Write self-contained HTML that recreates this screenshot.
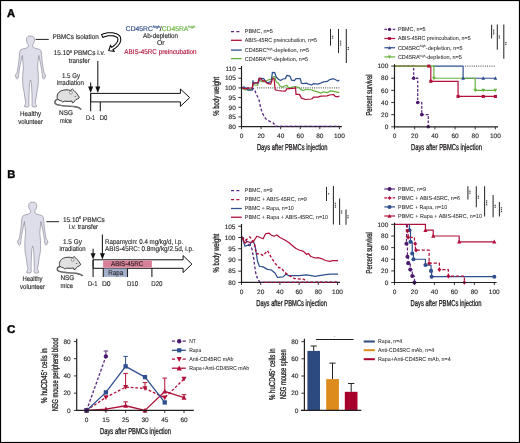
<!DOCTYPE html>
<html><head><meta charset="utf-8"><title>Figure</title>
<style>html,body{margin:0;padding:0;background:#fff;}body{width:520px;height:443px;overflow:hidden;}svg{display:block;will-change:transform;text-rendering:geometricPrecision;}</style>
</head><body>
<svg width="520" height="443" viewBox="0 0 520 443" font-family='"Liberation Sans", sans-serif' fill="#231f20">
<rect x="0" y="0" width="520" height="443" fill="#fff"/>
<text x="7.00" y="16.90" font-size="11.2" stroke="#000" stroke-width="0.4" fill="#000" font-weight="bold" >A</text>
<text x="7.30" y="178.00" font-size="11.2" stroke="#000" stroke-width="0.4" fill="#000" font-weight="bold" >B</text>
<text x="6.90" y="333.30" font-size="11.2" stroke="#000" stroke-width="0.4" fill="#000" font-weight="bold" textLength="8.40" lengthAdjust="spacingAndGlyphs" >C</text>
<path d="M30.50,36.00 L32.90,36.30 L34.20,37.60 L34.50,39.80 L34.30,41.80 L33.50,43.60 L32.70,44.60 L32.60,46.60 L35.00,48.20 L38.50,49.00 L40.30,49.80 L41.10,51.30 L41.50,54.00 L41.90,59.00 L42.50,64.00 L43.30,69.00 L43.90,72.50 L45.30,74.60 L45.90,76.20 L45.10,76.30 L44.80,78.40 L43.80,79.10 L42.80,78.20 L42.30,74.50 L41.70,70.00 L40.70,64.50 L39.50,59.00 L38.70,55.60 L38.10,61.00 L37.60,67.00 L38.20,73.00 L38.40,79.00 L38.10,86.00 L36.90,92.00 L36.10,98.00 L35.20,102.50 L35.90,104.50 L36.70,106.00 L36.10,106.90 L32.70,106.90 L31.90,105.50 L32.10,102.50 L32.00,96.00 L31.70,88.00 L31.30,82.50 L30.50,80.00 L29.70,82.50 L29.30,88.00 L29.00,96.00 L28.90,102.50 L29.10,105.50 L28.30,106.90 L24.90,106.90 L24.30,106.00 L25.10,104.50 L25.80,102.50 L24.90,98.00 L24.10,92.00 L22.90,86.00 L22.60,79.00 L22.80,73.00 L23.40,67.00 L22.90,61.00 L22.30,55.60 L21.50,59.00 L20.30,64.50 L19.30,70.00 L18.70,74.50 L18.20,78.20 L17.20,79.10 L16.20,78.40 L15.90,76.30 L15.10,76.20 L15.70,74.60 L17.10,72.50 L17.70,69.00 L18.50,64.00 L19.10,59.00 L19.50,54.00 L19.90,51.30 L20.70,49.80 L22.50,49.00 L26.00,48.20 L28.40,46.60 L28.30,44.60 L27.50,43.60 L26.70,41.80 L26.50,39.80 L26.80,37.60 L28.10,36.30 Z" fill="#dedeea" stroke="#7d7e8e" stroke-width="0.6" stroke-linejoin="round"/>
<polyline points="38.70,55.60 39.10,60.00" fill="none" stroke="#9a9bab" stroke-width="0.4"/>
<polyline points="22.30,55.60 21.90,60.00" fill="none" stroke="#9a9bab" stroke-width="0.4"/>
<line x1="35.60" y1="39.40" x2="48.80" y2="39.40" stroke="#231f20" stroke-width="1.0" />
<text x="52.50" y="38.50" font-size="6.9" stroke="#231f20" stroke-width="0.13" textLength="46.30" lengthAdjust="spacingAndGlyphs" >PBMCs isolation</text>
<path d="M102.83,37.41 L103.68,37.03 L104.51,36.71 L105.36,36.43 L106.24,36.19 L107.13,36.00 L108.02,35.85 L108.91,35.75 L109.80,35.68 L110.67,35.67 L111.53,35.70 L112.36,35.77 L113.15,35.88 L113.91,36.04 L114.62,36.23 L115.29,36.47 L115.89,36.74 L116.43,37.04 L116.91,37.36 L117.32,37.72 L117.59,38.00 L117.65,38.19 L117.77,38.56 L117.84,38.94 L117.88,39.34 L117.87,39.75 L117.82,40.19 L117.72,40.64 L117.58,41.10 L117.38,41.59 L117.14,42.08 L116.84,42.59 L116.48,43.11 L116.07,43.63 L115.61,44.15 L115.09,44.68 L114.51,45.20 L113.87,45.72 L113.18,46.23 L112.43,46.74 L111.60,47.24 L110.48,45.53 L108.75,50.65 L114.12,51.27 L113.00,49.56 L113.88,49.03 L114.74,48.47 L115.54,47.89 L116.28,47.29 L116.97,46.68 L117.61,46.06 L118.19,45.42 L118.71,44.77 L119.18,44.11 L119.59,43.44 L119.94,42.76 L120.23,42.07 L120.45,41.38 L120.62,40.68 L120.71,39.98 L120.73,39.27 L120.69,38.58 L120.57,37.89 L120.37,37.22 L120.01,36.40 L119.37,35.65 L118.71,35.07 L118.00,34.56 L117.22,34.11 L116.39,33.73 L115.53,33.41 L114.62,33.15 L113.68,32.95 L112.71,32.80 L111.72,32.70 L110.71,32.66 L109.69,32.67 L108.65,32.73 L107.61,32.84 L106.57,33.00 L105.53,33.22 L104.50,33.48 L103.49,33.80 L102.50,34.18 L101.57,34.59 Z" fill="#fff" stroke="#000" stroke-width="1.05" stroke-linejoin="miter"/>
<text x="53.80" y="55.00" font-size="6.9" stroke="#231f20" stroke-width="0.13" textLength="51.20" lengthAdjust="spacingAndGlyphs" >15.10<tspan font-size="3.8" dy="-2.4">6</tspan><tspan dy="2.4"> PBMCs i.v.</tspan></text>
<text x="68.80" y="62.50" font-size="6.9" stroke="#231f20" stroke-width="0.13" textLength="21.00" lengthAdjust="spacingAndGlyphs" >transfer</text>
<text x="61.90" y="77.80" font-size="6.9" stroke="#231f20" stroke-width="0.13" textLength="18.10" lengthAdjust="spacingAndGlyphs" >1.5 Gy</text>
<text x="56.90" y="85.30" font-size="6.9" stroke="#231f20" stroke-width="0.13" textLength="27.10" lengthAdjust="spacingAndGlyphs" >irradiation</text>
<g transform="translate(0.00 0.00) scale(1.0)">
<path d="M58.2,99.2 C54.6,100.2 53.6,102.6 56.4,104.3 C60,106.2 69,105.8 75.5,106.8 C77.8,107.2 79.8,107.9 80.8,108.9" fill="none" stroke="#222" stroke-width="1.4" stroke-linecap="round"/>
<path d="M58.2,99.2 C54.6,100.2 53.6,102.6 56.4,104.3 C60,106.2 69,105.8 75.5,106.8 C77.8,107.2 79.8,107.9 80.8,108.9" fill="none" stroke="#f2f2f2" stroke-width="0.45" stroke-linecap="round"/>
<path d="M57.4,98.6 C56.4,95.2 58.2,92.2 61.2,90.8 C64.2,89.5 68.2,89.6 70.6,90.4 L72.5,89.1 L74.2,90.7 C76.2,92.6 78.2,95.2 79.3,97.6 C78.6,98.6 77.1,99.2 75.9,99.6 C75.1,100.5 74.2,101.3 73.6,102.5 L72.3,102.8 L71.9,101.1 C69.9,101.4 66.9,101.6 64.5,101.2 L62.6,102.0 L61.5,101.0 C59.5,100.5 58.0,99.8 57.4,98.6 Z" fill="#e0e0e0" stroke="#222" stroke-width="0.9" stroke-linejoin="round"/>
<circle cx="70.9" cy="92.6" r="1.5" fill="#f4f4f4" stroke="#444" stroke-width="0.5"/>
<circle cx="75.2" cy="96.3" r="0.55" fill="#222"/>
</g>
<text x="59.00" y="115.30" font-size="6.9" stroke="#231f20" stroke-width="0.13" textLength="14.00" lengthAdjust="spacingAndGlyphs" >NSG</text>
<text x="60.00" y="122.50" font-size="6.9" stroke="#231f20" stroke-width="0.13" textLength="12.00" lengthAdjust="spacingAndGlyphs" >mice</text>
<text x="20.00" y="116.00" font-size="6.9" stroke="#231f20" stroke-width="0.13" textLength="21.20" lengthAdjust="spacingAndGlyphs" >Healthy</text>
<text x="18.20" y="123.80" font-size="6.9" stroke="#231f20" stroke-width="0.13" textLength="24.80" lengthAdjust="spacingAndGlyphs" >volunteer</text>
<text x="125.8" y="30.8" font-size="6.9" stroke-width="0.18" textLength="69.6" lengthAdjust="spacingAndGlyphs"><tspan fill="#2f4f8e" stroke="#2f4f8e">CD45RC</tspan><tspan fill="#2f4f8e" stroke="#2f4f8e" font-size="3.8" dy="-2.8">high</tspan><tspan dy="2.8" stroke="#231f20">/</tspan><tspan fill="#69b23f" stroke="#69b23f">CD45RA</tspan><tspan fill="#69b23f" stroke="#69b23f" font-size="3.8" dy="-2.8">high</tspan></text>
<text x="143.00" y="38.20" font-size="6.9" stroke="#231f20" stroke-width="0.13" textLength="35.00" lengthAdjust="spacingAndGlyphs" >Ab-depletion</text>
<text x="157.00" y="45.40" font-size="6.9" stroke="#231f20" stroke-width="0.13" textLength="7.60" lengthAdjust="spacingAndGlyphs" >Or</text>
<text x="124.30" y="53.80" font-size="6.9" stroke="#b0103a" stroke-width="0.13" fill="#b0103a" textLength="72.30" lengthAdjust="spacingAndGlyphs" >ABIS-45RC preincubation</text>
<line x1="90.65" y1="82.60" x2="90.65" y2="88.00" stroke="#231f20" stroke-width="1.1" />
<polygon points="88.1,86.6 93.2,86.6 90.65,93.0" fill="#111"/>
<line x1="97.80" y1="61.00" x2="97.80" y2="88.00" stroke="#231f20" stroke-width="1.1" />
<polygon points="95.3,86.6 100.3,86.6 97.8,93.0" fill="#111"/>
<path d="M90.65,93.4 L180.4,93.4 L180.4,89.0 L189.7,97.6 L180.4,106.4 L180.4,101.9 L90.65,101.9 Z" fill="#fff" stroke="#111" stroke-width="1.0" stroke-linejoin="miter"/>
<line x1="90.65" y1="93.40" x2="90.65" y2="111.30" stroke="#231f20" stroke-width="1.1" />
<line x1="100.30" y1="101.90" x2="100.30" y2="111.30" stroke="#231f20" stroke-width="1.1" />
<text x="86.10" y="119.70" font-size="6.9" stroke="#231f20" stroke-width="0.13" textLength="9.10" lengthAdjust="spacingAndGlyphs" >D-1</text>
<text x="99.80" y="119.70" font-size="6.9" stroke="#231f20" stroke-width="0.13" textLength="7.60" lengthAdjust="spacingAndGlyphs" >D0</text>
<polyline points="231.00,31.70 240.50,31.70" fill="none" stroke="#5a2a82" stroke-width="1.3" stroke-dasharray="3,2.4" stroke-linejoin="round" />
<line x1="231.00" y1="40.30" x2="241.80" y2="40.30" stroke="#b0103a" stroke-width="1.3" />
<line x1="231.00" y1="50.10" x2="241.80" y2="50.10" stroke="#2f4f8e" stroke-width="1.3" />
<line x1="231.00" y1="58.60" x2="241.80" y2="58.60" stroke="#69b23f" stroke-width="1.3" />
<text x="244.80" y="33.30" font-size="5.7" stroke="#231f20" stroke-width="0.04" textLength="28.00" lengthAdjust="spacingAndGlyphs" >PBMC, n=5</text>
<text x="244.80" y="42.30" font-size="5.7" stroke="#231f20" stroke-width="0.04" textLength="72.10" lengthAdjust="spacingAndGlyphs" >ABIS-45RC preincubation, n=5</text>
<text x="244.80" y="51.90" font-size="5.7" stroke="#231f20" stroke-width="0.04" textLength="64.20" lengthAdjust="spacingAndGlyphs" >CD45RC<tspan font-size="3.2" dy="-2.2">high</tspan><tspan dy="2.2">-depletion, n=5</tspan></text>
<text x="244.80" y="60.90" font-size="5.7" stroke="#231f20" stroke-width="0.04" textLength="63.30" lengthAdjust="spacingAndGlyphs" >CD45RA<tspan font-size="3.2" dy="-2.2">high</tspan><tspan dy="2.2">-depletion, n=5</tspan></text>
<line x1="330.50" y1="28.90" x2="330.50" y2="45.60" stroke="#2a2a2a" stroke-width="1.05" />
<rect x="331.90" y="35.65" width="1.3" height="1.2" fill="#444"/>
<rect x="331.90" y="37.55" width="1.3" height="1.2" fill="#444"/>
<line x1="338.50" y1="29.00" x2="338.50" y2="53.10" stroke="#2a2a2a" stroke-width="1.05" />
<rect x="339.90" y="40.60" width="1.3" height="1.2" fill="#444"/>
<rect x="339.90" y="42.50" width="1.3" height="1.2" fill="#444"/>
<rect x="339.90" y="44.40" width="1.3" height="1.2" fill="#444"/>
<line x1="346.30" y1="29.00" x2="346.30" y2="63.10" stroke="#2a2a2a" stroke-width="1.05" />
<rect x="347.70" y="46.95" width="1.3" height="1.2" fill="#444"/>
<rect x="347.70" y="48.85" width="1.3" height="1.2" fill="#444"/>
<polyline points="257.00,87.90 339.40,87.90" fill="none" stroke="#111" stroke-width="0.9" stroke-dasharray="0.9,1.3" stroke-linejoin="round" />
<polyline points="241.90,87.80 244.00,88.50 247.00,88.00 250.00,88.30 253.00,88.50 254.20,88.90 255.80,92.80 257.50,96.50 259.00,99.90 260.50,107.00 262.00,112.00 263.70,115.70 265.50,118.50 267.60,120.40 270.50,121.60 273.20,122.80 275.50,126.30 339.40,126.30" fill="none" stroke="#5a2a82" stroke-width="1.35" stroke-dasharray="2.8,2.0" stroke-linejoin="round" />
<polyline points="241.60,88.20 245.50,90.00 250.00,89.50 252.30,89.60 253.00,84.00 255.00,85.00 257.50,85.30 259.00,79.00 260.50,81.20 263.70,81.80 266.00,81.00 268.50,79.80 271.60,79.00 273.20,76.60 274.80,76.60 276.20,82.20 278.20,82.80 279.70,85.70 282.10,87.30 284.50,86.00 286.90,85.30 288.40,87.70 291.00,87.30 294.80,86.50 298.70,87.30 301.10,89.70 303.50,90.50 305.80,89.30 309.00,89.70 312.20,90.00 313.50,90.90 317.00,91.60 320.80,93.20 323.50,91.80 327.10,92.70 330.70,90.90 334.00,91.40 338.00,92.30 339.30,92.30" fill="none" stroke="#69b23f" stroke-width="1.25" stroke-linejoin="round" />
<polyline points="241.60,87.70 244.30,86.90 246.00,88.30 247.90,90.00 252.30,90.00 253.00,80.60 253.60,83.20 258.20,83.20 260.00,78.20 263.70,78.60 265.00,80.60 267.30,83.00 271.20,81.40 272.40,72.30 274.80,72.70 276.20,77.00 278.20,79.00 280.50,80.60 282.90,79.00 285.30,78.60 286.90,75.40 290.00,76.20 291.60,80.20 294.40,80.60 296.00,78.60 300.30,78.60 301.40,83.20 303.50,83.70 306.30,83.20 308.00,83.90 311.70,85.00 313.50,83.70 318.00,84.10 320.50,83.20 323.50,81.90 327.10,81.40 329.80,79.60 333.40,78.70 336.10,80.00 338.00,81.00 339.30,80.00" fill="none" stroke="#2f4f8e" stroke-width="1.25" stroke-linejoin="round" />
<polyline points="241.60,87.70 244.70,88.90 248.00,88.20 252.30,87.90 253.00,83.00 258.20,82.60 259.00,78.20 261.00,79.00 263.00,81.00 264.50,80.60 266.00,82.20 268.00,83.70 270.80,84.10 272.40,79.00 274.00,78.20 275.20,89.70 277.40,90.50 281.30,90.90 285.30,91.20 286.90,88.90 294.80,88.10 295.50,87.30 296.00,94.40 299.50,94.40 301.40,98.10 305.40,99.50 311.70,99.00 313.50,97.20 318.00,97.20 320.80,96.10 327.10,95.90 329.80,95.00 333.40,94.50 335.20,96.30 338.00,96.80 339.30,95.90" fill="none" stroke="#b0103a" stroke-width="1.25" stroke-linejoin="round" />
<line x1="241.50" y1="66.00" x2="241.50" y2="127.30" stroke="#231f20" stroke-width="1.2" />
<line x1="238.40" y1="126.64" x2="241.50" y2="126.64" stroke="#231f20" stroke-width="0.9" />
<text x="235.80" y="128.89" font-size="6.5" stroke="#231f20" stroke-width="0.13" text-anchor="end" >80</text>
<line x1="238.40" y1="116.96" x2="241.50" y2="116.96" stroke="#231f20" stroke-width="0.9" />
<text x="235.80" y="119.21" font-size="6.5" stroke="#231f20" stroke-width="0.13" text-anchor="end" >85</text>
<line x1="238.40" y1="107.27" x2="241.50" y2="107.27" stroke="#231f20" stroke-width="0.9" />
<text x="235.80" y="109.52" font-size="6.5" stroke="#231f20" stroke-width="0.13" text-anchor="end" >90</text>
<line x1="238.40" y1="97.59" x2="241.50" y2="97.59" stroke="#231f20" stroke-width="0.9" />
<text x="235.80" y="99.84" font-size="6.5" stroke="#231f20" stroke-width="0.13" text-anchor="end" >95</text>
<line x1="238.40" y1="87.90" x2="241.50" y2="87.90" stroke="#231f20" stroke-width="0.9" />
<text x="235.80" y="90.15" font-size="6.5" stroke="#231f20" stroke-width="0.13" text-anchor="end" >100</text>
<line x1="238.40" y1="78.22" x2="241.50" y2="78.22" stroke="#231f20" stroke-width="0.9" />
<text x="235.80" y="80.47" font-size="6.5" stroke="#231f20" stroke-width="0.13" text-anchor="end" >105</text>
<line x1="238.40" y1="68.53" x2="241.50" y2="68.53" stroke="#231f20" stroke-width="0.9" />
<text x="235.80" y="70.78" font-size="6.5" stroke="#231f20" stroke-width="0.13" text-anchor="end" >110</text>
<line x1="240.90" y1="126.60" x2="341.90" y2="126.60" stroke="#231f20" stroke-width="1.2" />
<line x1="241.50" y1="126.60" x2="241.50" y2="129.20" stroke="#231f20" stroke-width="0.9" />
<text x="241.50" y="138.30" font-size="6.5" stroke="#231f20" stroke-width="0.13" text-anchor="middle" >0</text>
<line x1="261.08" y1="126.60" x2="261.08" y2="129.20" stroke="#231f20" stroke-width="0.9" />
<text x="261.08" y="138.30" font-size="6.5" stroke="#231f20" stroke-width="0.13" text-anchor="middle" >20</text>
<line x1="280.66" y1="126.60" x2="280.66" y2="129.20" stroke="#231f20" stroke-width="0.9" />
<text x="280.66" y="138.30" font-size="6.5" stroke="#231f20" stroke-width="0.13" text-anchor="middle" >40</text>
<line x1="300.24" y1="126.60" x2="300.24" y2="129.20" stroke="#231f20" stroke-width="0.9" />
<text x="300.24" y="138.30" font-size="6.5" stroke="#231f20" stroke-width="0.13" text-anchor="middle" >60</text>
<line x1="319.82" y1="126.60" x2="319.82" y2="129.20" stroke="#231f20" stroke-width="0.9" />
<text x="319.82" y="138.30" font-size="6.5" stroke="#231f20" stroke-width="0.13" text-anchor="middle" >80</text>
<line x1="339.40" y1="126.60" x2="339.40" y2="129.20" stroke="#231f20" stroke-width="0.9" />
<text x="339.40" y="138.30" font-size="6.5" stroke="#231f20" stroke-width="0.13" text-anchor="middle" >100</text>
<polyline points="274.79,126.30 339.40,126.30" fill="none" stroke="#5a2a82" stroke-width="1.0" stroke-dasharray="2.6,2.0" stroke-linejoin="round" />
<text x="256.90" y="150.20" font-size="8.6" stroke="#231f20" stroke-width="0.32" textLength="70.60" lengthAdjust="spacingAndGlyphs" >Days after PBMCs injection</text>
<text x="218.90" y="115.80" font-size="8.6" stroke="#231f20" stroke-width="0.32" textLength="38.90" lengthAdjust="spacingAndGlyphs" transform="rotate(-90 218.90 115.80)" >% body weight</text>
<polyline points="384.40,29.40 395.20,29.40" fill="none" stroke="#5a2a82" stroke-width="1.2" stroke-dasharray="2.6,1.6" stroke-linejoin="round" />
<circle cx="389.50" cy="29.40" r="1.60" fill="#4b1a6e"/>
<line x1="384.40" y1="38.50" x2="395.20" y2="38.50" stroke="#b0103a" stroke-width="1.2" />
<rect x="388.09" y="37.09" width="2.82" height="2.82" fill="#b0103a"/>
<line x1="384.40" y1="47.75" x2="395.20" y2="47.75" stroke="#2f4f8e" stroke-width="1.2" />
<polygon points="389.50,45.97 391.20,49.20 387.80,49.20" fill="#2f4f8e"/>
<line x1="384.40" y1="56.90" x2="395.20" y2="56.90" stroke="#69b23f" stroke-width="1.2" />
<polygon points="389.50,58.68 391.20,55.45 387.80,55.45" fill="#69b23f"/>
<text x="397.90" y="31.00" font-size="5.7" stroke="#231f20" stroke-width="0.04" textLength="27.70" lengthAdjust="spacingAndGlyphs" >PBMC, n=5</text>
<text x="397.90" y="40.40" font-size="5.7" stroke="#231f20" stroke-width="0.04" textLength="72.70" lengthAdjust="spacingAndGlyphs" >ABIS-45RC preincubation, n=5</text>
<text x="397.90" y="49.65" font-size="5.7" stroke="#231f20" stroke-width="0.04" textLength="64.60" lengthAdjust="spacingAndGlyphs" >CD45RC<tspan font-size="3.2" dy="-2.2">high</tspan><tspan dy="2.2">-depletion, n=5</tspan></text>
<text x="397.90" y="59.00" font-size="5.7" stroke="#231f20" stroke-width="0.04" textLength="64.00" lengthAdjust="spacingAndGlyphs" >CD45RA<tspan font-size="3.2" dy="-2.2">high</tspan><tspan dy="2.2">-depletion, n=5</tspan></text>
<line x1="491.60" y1="24.70" x2="491.60" y2="38.50" stroke="#2a2a2a" stroke-width="1.05" />
<rect x="493.00" y="29.50" width="1.3" height="1.2" fill="#444"/>
<rect x="493.00" y="31.40" width="1.3" height="1.2" fill="#444"/>
<rect x="493.00" y="33.30" width="1.3" height="1.2" fill="#444"/>
<line x1="497.30" y1="24.40" x2="497.30" y2="49.80" stroke="#2a2a2a" stroke-width="1.05" />
<rect x="498.70" y="35.45" width="1.3" height="1.2" fill="#444"/>
<rect x="498.70" y="37.35" width="1.3" height="1.2" fill="#444"/>
<line x1="503.80" y1="24.40" x2="503.80" y2="58.80" stroke="#2a2a2a" stroke-width="1.05" />
<rect x="505.20" y="41.95" width="1.3" height="1.2" fill="#444"/>
<rect x="505.20" y="43.85" width="1.3" height="1.2" fill="#444"/>
<polyline points="465.13,66.10 495.40,66.10" fill="none" stroke="#111" stroke-width="0.9" stroke-dasharray="0.9,1.3" stroke-linejoin="round" />
<polyline points="394.50,66.10 413.67,66.10 413.67,78.24 417.71,78.24 417.71,102.52 421.74,102.52 421.74,114.66 428.30,114.66 428.30,126.80" fill="none" stroke="#5a2a82" stroke-width="1.3" stroke-dasharray="2.6,1.6" stroke-linejoin="round" />
<polyline points="394.50,66.10 430.82,66.10 430.82,81.28 458.07,81.28 458.07,96.45 495.40,96.45" fill="none" stroke="#b0103a" stroke-width="1.2" stroke-linejoin="round" />
<polyline points="432.84,66.10 463.11,66.10 463.11,78.24 495.40,78.24" fill="none" stroke="#2f4f8e" stroke-width="1.2" stroke-linejoin="round" />
<polyline points="394.50,66.10 433.85,66.10 433.85,78.24 475.22,78.24 475.22,90.38 495.40,90.38" fill="none" stroke="#69b23f" stroke-width="1.2" stroke-linejoin="round" />
<circle cx="413.67" cy="78.24" r="1.80" fill="#4b1a6e"/>
<circle cx="417.71" cy="102.52" r="1.80" fill="#4b1a6e"/>
<circle cx="421.74" cy="114.66" r="1.80" fill="#4b1a6e"/>
<circle cx="428.30" cy="126.80" r="1.80" fill="#4b1a6e"/>
<rect x="427.27" y="64.56" width="3.08" height="3.08" fill="#b0103a"/>
<rect x="429.28" y="79.73" width="3.08" height="3.08" fill="#b0103a"/>
<rect x="456.53" y="94.91" width="3.08" height="3.08" fill="#b0103a"/>
<rect x="481.75" y="94.91" width="3.08" height="3.08" fill="#b0103a"/>
<rect x="493.86" y="94.91" width="3.08" height="3.08" fill="#b0103a"/>
<polygon points="463.11,76.30 464.96,79.81 461.26,79.81" fill="#2f4f8e"/>
<polygon points="483.29,76.30 485.14,79.81 481.44,79.81" fill="#2f4f8e"/>
<polygon points="495.40,76.30 497.25,79.81 493.55,79.81" fill="#2f4f8e"/>
<polygon points="433.85,80.18 435.70,76.67 432.00,76.67" fill="#69b23f"/>
<polygon points="475.22,92.32 477.07,88.81 473.37,88.81" fill="#69b23f"/>
<polygon points="483.29,92.32 485.14,88.81 481.44,88.81" fill="#69b23f"/>
<polygon points="495.40,92.32 497.25,88.81 493.55,88.81" fill="#69b23f"/>
<line x1="394.50" y1="64.20" x2="394.50" y2="127.40" stroke="#231f20" stroke-width="1.2" />
<line x1="391.20" y1="126.80" x2="394.50" y2="126.80" stroke="#231f20" stroke-width="0.9" />
<text x="388.30" y="129.05" font-size="6.5" stroke="#231f20" stroke-width="0.13" text-anchor="end" >0</text>
<line x1="391.20" y1="114.66" x2="394.50" y2="114.66" stroke="#231f20" stroke-width="0.9" />
<text x="388.30" y="116.91" font-size="6.5" stroke="#231f20" stroke-width="0.13" text-anchor="end" >20</text>
<line x1="391.20" y1="102.52" x2="394.50" y2="102.52" stroke="#231f20" stroke-width="0.9" />
<text x="388.30" y="104.77" font-size="6.5" stroke="#231f20" stroke-width="0.13" text-anchor="end" >40</text>
<line x1="391.20" y1="90.38" x2="394.50" y2="90.38" stroke="#231f20" stroke-width="0.9" />
<text x="388.30" y="92.63" font-size="6.5" stroke="#231f20" stroke-width="0.13" text-anchor="end" >60</text>
<line x1="391.20" y1="78.24" x2="394.50" y2="78.24" stroke="#231f20" stroke-width="0.9" />
<text x="388.30" y="80.49" font-size="6.5" stroke="#231f20" stroke-width="0.13" text-anchor="end" >80</text>
<line x1="391.20" y1="66.10" x2="394.50" y2="66.10" stroke="#231f20" stroke-width="0.9" />
<text x="388.30" y="68.35" font-size="6.5" stroke="#231f20" stroke-width="0.13" text-anchor="end" >100</text>
<line x1="393.90" y1="126.80" x2="498.00" y2="126.80" stroke="#231f20" stroke-width="1.2" />
<line x1="394.50" y1="126.80" x2="394.50" y2="129.40" stroke="#231f20" stroke-width="0.9" />
<text x="394.50" y="138.30" font-size="6.5" stroke="#231f20" stroke-width="0.13" text-anchor="middle" >0</text>
<line x1="414.68" y1="126.80" x2="414.68" y2="129.40" stroke="#231f20" stroke-width="0.9" />
<text x="414.68" y="138.30" font-size="6.5" stroke="#231f20" stroke-width="0.13" text-anchor="middle" >20</text>
<line x1="434.86" y1="126.80" x2="434.86" y2="129.40" stroke="#231f20" stroke-width="0.9" />
<text x="434.86" y="138.30" font-size="6.5" stroke="#231f20" stroke-width="0.13" text-anchor="middle" >40</text>
<line x1="455.04" y1="126.80" x2="455.04" y2="129.40" stroke="#231f20" stroke-width="0.9" />
<text x="455.04" y="138.30" font-size="6.5" stroke="#231f20" stroke-width="0.13" text-anchor="middle" >60</text>
<line x1="475.22" y1="126.80" x2="475.22" y2="129.40" stroke="#231f20" stroke-width="0.9" />
<text x="475.22" y="138.30" font-size="6.5" stroke="#231f20" stroke-width="0.13" text-anchor="middle" >80</text>
<line x1="495.40" y1="126.80" x2="495.40" y2="129.40" stroke="#231f20" stroke-width="0.9" />
<text x="495.40" y="138.30" font-size="6.5" stroke="#231f20" stroke-width="0.13" text-anchor="middle" >100</text>
<text x="411.00" y="150.20" font-size="8.6" stroke="#231f20" stroke-width="0.32" textLength="70.90" lengthAdjust="spacingAndGlyphs" >Days after PBMCs injection</text>
<text x="371.60" y="115.60" font-size="8.6" stroke="#231f20" stroke-width="0.32" textLength="41.10" lengthAdjust="spacingAndGlyphs" transform="rotate(-90 371.60 115.60)" >Percent survival</text>
<path d="M32.70,202.10 L35.10,202.40 L36.40,203.70 L36.70,205.90 L36.50,207.90 L35.70,209.70 L34.90,210.70 L34.80,212.70 L37.20,214.30 L40.70,215.10 L42.50,215.90 L43.30,217.40 L43.70,220.10 L44.10,225.10 L44.70,230.10 L45.50,235.10 L46.10,238.60 L47.50,240.70 L48.10,242.30 L47.30,242.40 L47.00,244.50 L46.00,245.20 L45.00,244.30 L44.50,240.60 L43.90,236.10 L42.90,230.60 L41.70,225.10 L40.90,221.70 L40.30,227.10 L39.80,233.10 L40.40,239.10 L40.60,245.10 L40.30,252.10 L39.10,258.10 L38.30,264.10 L37.40,268.60 L38.10,270.60 L38.90,272.10 L38.30,273.00 L34.90,273.00 L34.10,271.60 L34.30,268.60 L34.20,262.10 L33.90,254.10 L33.50,248.60 L32.70,246.10 L31.90,248.60 L31.50,254.10 L31.20,262.10 L31.10,268.60 L31.30,271.60 L30.50,273.00 L27.10,273.00 L26.50,272.10 L27.30,270.60 L28.00,268.60 L27.10,264.10 L26.30,258.10 L25.10,252.10 L24.80,245.10 L25.00,239.10 L25.60,233.10 L25.10,227.10 L24.50,221.70 L23.70,225.10 L22.50,230.60 L21.50,236.10 L20.90,240.60 L20.40,244.30 L19.40,245.20 L18.40,244.50 L18.10,242.40 L17.30,242.30 L17.90,240.70 L19.30,238.60 L19.90,235.10 L20.70,230.10 L21.30,225.10 L21.70,220.10 L22.10,217.40 L22.90,215.90 L24.70,215.10 L28.20,214.30 L30.60,212.70 L30.50,210.70 L29.70,209.70 L28.90,207.90 L28.70,205.90 L29.00,203.70 L30.30,202.40 Z" fill="#dedeea" stroke="#7d7e8e" stroke-width="0.6" stroke-linejoin="round"/>
<polyline points="40.90,221.70 41.30,226.10" fill="none" stroke="#9a9bab" stroke-width="0.4"/>
<polyline points="24.50,221.70 24.10,226.10" fill="none" stroke="#9a9bab" stroke-width="0.4"/>
<line x1="46.30" y1="221.70" x2="59.00" y2="221.70" stroke="#231f20" stroke-width="1.0" />
<text x="62.90" y="221.60" font-size="6.9" stroke="#231f20" stroke-width="0.13" textLength="41.90" lengthAdjust="spacingAndGlyphs" >15.10<tspan font-size="3.8" dy="-2.4">6</tspan><tspan dy="2.4"> PBMCs</tspan></text>
<text x="68.80" y="229.40" font-size="6.9" stroke="#231f20" stroke-width="0.13" textLength="29.30" lengthAdjust="spacingAndGlyphs" >i.v. transfer</text>
<text x="63.00" y="244.00" font-size="6.9" stroke="#231f20" stroke-width="0.13" textLength="18.90" lengthAdjust="spacingAndGlyphs" >1.5 Gy</text>
<text x="59.40" y="251.00" font-size="6.9" stroke="#231f20" stroke-width="0.13" textLength="26.20" lengthAdjust="spacingAndGlyphs" >irradiation</text>
<g transform="translate(4.60 171.00) scale(0.96)">
<path d="M58.2,99.2 C54.6,100.2 53.6,102.6 56.4,104.3 C60,106.2 69,105.8 75.5,106.8 C77.8,107.2 79.8,107.9 80.8,108.9" fill="none" stroke="#222" stroke-width="1.4" stroke-linecap="round"/>
<path d="M58.2,99.2 C54.6,100.2 53.6,102.6 56.4,104.3 C60,106.2 69,105.8 75.5,106.8 C77.8,107.2 79.8,107.9 80.8,108.9" fill="none" stroke="#f2f2f2" stroke-width="0.45" stroke-linecap="round"/>
<path d="M57.4,98.6 C56.4,95.2 58.2,92.2 61.2,90.8 C64.2,89.5 68.2,89.6 70.6,90.4 L72.5,89.1 L74.2,90.7 C76.2,92.6 78.2,95.2 79.3,97.6 C78.6,98.6 77.1,99.2 75.9,99.6 C75.1,100.5 74.2,101.3 73.6,102.5 L72.3,102.8 L71.9,101.1 C69.9,101.4 66.9,101.6 64.5,101.2 L62.6,102.0 L61.5,101.0 C59.5,100.5 58.0,99.8 57.4,98.6 Z" fill="#e0e0e0" stroke="#222" stroke-width="0.9" stroke-linejoin="round"/>
<circle cx="70.9" cy="92.6" r="1.5" fill="#f4f4f4" stroke="#444" stroke-width="0.5"/>
<circle cx="75.2" cy="96.3" r="0.55" fill="#222"/>
</g>
<text x="60.40" y="280.40" font-size="6.9" stroke="#231f20" stroke-width="0.13" textLength="14.00" lengthAdjust="spacingAndGlyphs" >NSG</text>
<text x="60.60" y="288.00" font-size="6.9" stroke="#231f20" stroke-width="0.13" textLength="12.40" lengthAdjust="spacingAndGlyphs" >mice</text>
<text x="22.40" y="281.10" font-size="6.9" stroke="#231f20" stroke-width="0.13" textLength="20.20" lengthAdjust="spacingAndGlyphs" >Healthy</text>
<text x="20.00" y="288.50" font-size="6.9" stroke="#231f20" stroke-width="0.13" textLength="25.00" lengthAdjust="spacingAndGlyphs" >volunteer</text>
<text x="105.00" y="243.80" font-size="6.9" stroke="#231f20" stroke-width="0.13" textLength="78.10" lengthAdjust="spacingAndGlyphs" >Rapamycin: 0.4 mg/kg/d, i.p.</text>
<text x="105.00" y="251.30" font-size="6.9" stroke="#231f20" stroke-width="0.13" textLength="88.80" lengthAdjust="spacingAndGlyphs" >ABIS-45RC: 0.8mg/kg/2.5d, i.p.</text>
<line x1="93.10" y1="248.80" x2="93.10" y2="254.50" stroke="#231f20" stroke-width="1.1" />
<polygon points="90.6,253.2 95.6,253.2 93.1,259.6" fill="#111"/>
<line x1="102.40" y1="234.40" x2="102.40" y2="254.50" stroke="#231f20" stroke-width="1.1" />
<polygon points="99.9,253.2 104.9,253.2 102.4,259.6" fill="#111"/>
<path d="M93.1,259.8 L183.1,259.8 L183.1,255.6 L191.9,264.1 L183.1,272.5 L183.1,268.3 L93.1,268.3 Z" fill="#fff" stroke="#111" stroke-width="1.0"/>
<rect x="103.1" y="260.4" width="48.8" height="7.3" fill="#d8809a"/>
<text x="111.00" y="266.40" font-size="6.9" stroke="#231f20" stroke-width="0.13" textLength="32.20" lengthAdjust="spacingAndGlyphs" >ABIS-45RC</text>
<rect x="103.5" y="268.6" width="24.0" height="8.3" fill="#a3b0cc"/>
<text x="108.30" y="275.20" font-size="6.9" stroke="#231f20" stroke-width="0.13" textLength="14.80" lengthAdjust="spacingAndGlyphs" >Rapa</text>
<line x1="93.10" y1="259.80" x2="93.10" y2="277.00" stroke="#231f20" stroke-width="1.1" />
<line x1="103.30" y1="268.30" x2="103.30" y2="277.00" stroke="#231f20" stroke-width="1.1" />
<line x1="127.50" y1="268.30" x2="127.50" y2="277.00" stroke="#231f20" stroke-width="1.1" />
<line x1="151.90" y1="268.30" x2="151.90" y2="277.00" stroke="#231f20" stroke-width="1.1" />
<text x="88.10" y="285.60" font-size="6.9" stroke="#231f20" stroke-width="0.13" textLength="9.40" lengthAdjust="spacingAndGlyphs" >D-1</text>
<text x="101.90" y="285.60" font-size="6.9" stroke="#231f20" stroke-width="0.13" textLength="8.70" lengthAdjust="spacingAndGlyphs" >D0</text>
<text x="126.90" y="285.60" font-size="6.9" stroke="#231f20" stroke-width="0.13" textLength="11.20" lengthAdjust="spacingAndGlyphs" >D10</text>
<text x="151.30" y="285.60" font-size="6.9" stroke="#231f20" stroke-width="0.13" textLength="11.20" lengthAdjust="spacingAndGlyphs" >D20</text>
<polyline points="231.00,190.60 240.50,190.60" fill="none" stroke="#5a2a82" stroke-width="1.3" stroke-dasharray="3,2.4" stroke-linejoin="round" />
<polyline points="231.00,199.60 240.50,199.60" fill="none" stroke="#b0103a" stroke-width="1.3" stroke-dasharray="3,2.4" stroke-linejoin="round" />
<line x1="231.00" y1="208.50" x2="241.80" y2="208.50" stroke="#2f4f8e" stroke-width="1.3" />
<line x1="231.00" y1="217.25" x2="241.80" y2="217.25" stroke="#b0103a" stroke-width="1.3" />
<text x="244.80" y="192.30" font-size="5.7" stroke="#231f20" stroke-width="0.04" textLength="27.80" lengthAdjust="spacingAndGlyphs" >PBMC, n=9</text>
<text x="244.80" y="201.30" font-size="5.7" stroke="#231f20" stroke-width="0.04" textLength="62.10" lengthAdjust="spacingAndGlyphs" >PBMC + ABIS-45RC, n=9</text>
<text x="244.80" y="210.20" font-size="5.7" stroke="#231f20" stroke-width="0.04" textLength="49.00" lengthAdjust="spacingAndGlyphs" >PBMC + Rapa, n=10</text>
<text x="244.80" y="218.95" font-size="5.7" stroke="#231f20" stroke-width="0.04" textLength="83.30" lengthAdjust="spacingAndGlyphs" >PBMC + Rapa + ABIS-45RC, n=10</text>
<line x1="326.50" y1="186.90" x2="326.50" y2="201.00" stroke="#2a2a2a" stroke-width="1.05" />
<rect x="327.90" y="193.20" width="1.3" height="1.2" fill="#444"/>
<line x1="333.40" y1="186.00" x2="333.40" y2="224.40" stroke="#2a2a2a" stroke-width="1.05" />
<rect x="334.80" y="202.70" width="1.3" height="1.2" fill="#444"/>
<rect x="334.80" y="204.60" width="1.3" height="1.2" fill="#444"/>
<rect x="334.80" y="206.50" width="1.3" height="1.2" fill="#444"/>
<line x1="339.60" y1="198.50" x2="339.60" y2="225.00" stroke="#2a2a2a" stroke-width="1.05" />
<rect x="341.00" y="210.45" width="1.3" height="1.2" fill="#444"/>
<rect x="341.00" y="212.35" width="1.3" height="1.2" fill="#444"/>
<line x1="346.00" y1="209.40" x2="346.00" y2="224.80" stroke="#2a2a2a" stroke-width="1.05" />
<rect x="347.40" y="215.25" width="1.3" height="1.2" fill="#444"/>
<rect x="347.40" y="217.15" width="1.3" height="1.2" fill="#444"/>
<polyline points="241.90,236.50 245.00,246.25 248.00,245.20 250.00,245.60 251.25,241.90 253.75,241.90 255.60,248.75 257.50,261.25 259.40,266.25 263.10,266.90 267.50,269.40 271.25,270.00 275.00,273.00 277.50,277.50 280.00,277.10 283.00,276.90 285.90,274.20 288.80,275.60 299.10,275.60 306.40,274.90 311.00,275.60 315.20,276.40 319.00,275.60 324.00,274.90 329.90,274.20 338.00,274.20" fill="none" stroke="#2f4f8e" stroke-width="1.25" stroke-linejoin="round" />
<polyline points="241.90,237.50 245.00,243.10 247.50,241.50 250.00,242.50 252.50,241.90 254.40,240.00 256.90,236.25 260.00,237.50 263.10,238.75 265.60,233.75 268.75,233.10 271.20,235.00 273.75,236.25 276.90,235.00 280.00,237.50 284.40,239.70 288.80,242.60 293.20,246.30 296.00,248.50 299.10,250.00 303.50,251.40 306.40,254.30 308.50,253.50 310.80,256.50 315.20,258.00 318.00,257.60 322.60,259.00 325.50,260.50 329.90,261.40 332.80,260.50 338.00,260.50" fill="none" stroke="#b0103a" stroke-width="1.25" stroke-linejoin="round" />
<polyline points="241.90,237.00 245.00,239.00 249.40,245.00 251.90,248.75 253.75,258.75 255.60,272.50 257.50,278.75 260.00,282.30 338.00,282.30" fill="none" stroke="#5a2a82" stroke-width="1.35" stroke-dasharray="2.8,2.0" stroke-linejoin="round" />
<polyline points="241.90,237.50 245.00,240.60 250.00,236.90 252.50,240.60 254.40,243.00 256.25,253.75 260.00,253.75 263.10,255.60 267.50,250.60 271.25,257.50 275.00,263.10 278.75,267.50 281.50,268.30 284.40,272.00 288.00,274.90 291.70,277.10 294.70,278.60 304.20,279.30 305.70,282.30 338.00,282.30" fill="none" stroke="#b0103a" stroke-width="1.35" stroke-dasharray="2.8,2.0" stroke-linejoin="round" />
<line x1="241.50" y1="224.00" x2="241.50" y2="283.00" stroke="#231f20" stroke-width="1.2" />
<line x1="238.20" y1="282.40" x2="241.50" y2="282.40" stroke="#231f20" stroke-width="0.9" />
<text x="235.50" y="284.65" font-size="6.5" stroke="#231f20" stroke-width="0.13" text-anchor="end" >80</text>
<line x1="238.20" y1="271.18" x2="241.50" y2="271.18" stroke="#231f20" stroke-width="0.9" />
<text x="235.50" y="273.43" font-size="6.5" stroke="#231f20" stroke-width="0.13" text-anchor="end" >85</text>
<line x1="238.20" y1="259.95" x2="241.50" y2="259.95" stroke="#231f20" stroke-width="0.9" />
<text x="235.50" y="262.20" font-size="6.5" stroke="#231f20" stroke-width="0.13" text-anchor="end" >90</text>
<line x1="238.20" y1="248.72" x2="241.50" y2="248.72" stroke="#231f20" stroke-width="0.9" />
<text x="235.50" y="250.97" font-size="6.5" stroke="#231f20" stroke-width="0.13" text-anchor="end" >95</text>
<line x1="238.20" y1="237.50" x2="241.50" y2="237.50" stroke="#231f20" stroke-width="0.9" />
<text x="235.50" y="239.75" font-size="6.5" stroke="#231f20" stroke-width="0.13" text-anchor="end" >100</text>
<line x1="238.20" y1="226.28" x2="241.50" y2="226.28" stroke="#231f20" stroke-width="0.9" />
<text x="235.50" y="228.53" font-size="6.5" stroke="#231f20" stroke-width="0.13" text-anchor="end" >105</text>
<line x1="240.90" y1="282.40" x2="340.00" y2="282.40" stroke="#231f20" stroke-width="1.2" />
<line x1="241.50" y1="282.40" x2="241.50" y2="285.00" stroke="#231f20" stroke-width="0.9" />
<text x="241.50" y="294.00" font-size="6.5" stroke="#231f20" stroke-width="0.13" text-anchor="middle" >0</text>
<line x1="260.70" y1="282.40" x2="260.70" y2="285.00" stroke="#231f20" stroke-width="0.9" />
<text x="260.70" y="294.00" font-size="6.5" stroke="#231f20" stroke-width="0.13" text-anchor="middle" >20</text>
<line x1="279.90" y1="282.40" x2="279.90" y2="285.00" stroke="#231f20" stroke-width="0.9" />
<text x="279.90" y="294.00" font-size="6.5" stroke="#231f20" stroke-width="0.13" text-anchor="middle" >40</text>
<line x1="299.10" y1="282.40" x2="299.10" y2="285.00" stroke="#231f20" stroke-width="0.9" />
<text x="299.10" y="294.00" font-size="6.5" stroke="#231f20" stroke-width="0.13" text-anchor="middle" >60</text>
<line x1="318.30" y1="282.40" x2="318.30" y2="285.00" stroke="#231f20" stroke-width="0.9" />
<text x="318.30" y="294.00" font-size="6.5" stroke="#231f20" stroke-width="0.13" text-anchor="middle" >80</text>
<line x1="337.50" y1="282.40" x2="337.50" y2="285.00" stroke="#231f20" stroke-width="0.9" />
<text x="337.50" y="294.00" font-size="6.5" stroke="#231f20" stroke-width="0.13" text-anchor="middle" >100</text>
<polyline points="260.70,282.30 337.50,282.30" fill="none" stroke="#5a2a82" stroke-width="1.0" stroke-dasharray="2.6,2.0" stroke-linejoin="round" />
<polyline points="261.95,282.30 337.50,282.30" fill="none" stroke="#b0103a" stroke-width="1.0" stroke-dasharray="2.6,2.0" stroke-linejoin="round" stroke-dashoffset="2.3"/>
<text x="256.30" y="305.70" font-size="8.6" stroke="#231f20" stroke-width="0.32" textLength="70.60" lengthAdjust="spacingAndGlyphs" >Days after PBMCs injection</text>
<text x="218.90" y="272.50" font-size="8.6" stroke="#231f20" stroke-width="0.32" textLength="38.70" lengthAdjust="spacingAndGlyphs" transform="rotate(-90 218.90 272.50)" >% body weight</text>
<line x1="384.30" y1="189.00" x2="395.00" y2="189.00" stroke="#5a2a82" stroke-width="1.2" />
<circle cx="389.50" cy="189.00" r="2.00" fill="#4b1a6e"/>
<polyline points="384.30,197.90 395.00,197.90" fill="none" stroke="#b0103a" stroke-width="1.2" stroke-dasharray="3.0,1.2" stroke-linejoin="round" />
<polygon points="389.50,196.10 391.12,197.90 389.50,199.88 387.88,197.90" fill="#b0103a"/>
<line x1="384.30" y1="206.90" x2="395.00" y2="206.90" stroke="#2f4f8e" stroke-width="1.2" />
<circle cx="389.50" cy="206.90" r="2.00" fill="#2f4f8e"/>
<line x1="384.30" y1="216.00" x2="395.00" y2="216.00" stroke="#b0103a" stroke-width="1.2" />
<polygon points="389.50,213.90 391.50,217.70 387.50,217.70" fill="#b0103a"/>
<text x="398.10" y="190.70" font-size="5.7" stroke="#231f20" stroke-width="0.04" textLength="27.90" lengthAdjust="spacingAndGlyphs" >PBMC, n=9</text>
<text x="398.10" y="199.60" font-size="5.7" stroke="#231f20" stroke-width="0.04" textLength="61.90" lengthAdjust="spacingAndGlyphs" >PBMC + ABIS-45RC, n=6</text>
<text x="398.10" y="208.60" font-size="5.7" stroke="#231f20" stroke-width="0.04" textLength="49.00" lengthAdjust="spacingAndGlyphs" >PBMC + Rapa, n=10</text>
<text x="398.10" y="217.70" font-size="5.7" stroke="#231f20" stroke-width="0.04" textLength="83.80" lengthAdjust="spacingAndGlyphs" >PBMC + Rapa + ABIS-45RC, n=10</text>
<line x1="467.90" y1="186.20" x2="467.90" y2="199.40" stroke="#2a2a2a" stroke-width="1.05" />
<rect x="469.30" y="190.65" width="1.3" height="1.2" fill="#444"/>
<rect x="469.30" y="192.55" width="1.3" height="1.2" fill="#444"/>
<line x1="476.30" y1="186.20" x2="476.30" y2="207.30" stroke="#2a2a2a" stroke-width="1.05" />
<rect x="477.70" y="195.65" width="1.3" height="1.2" fill="#444"/>
<rect x="477.70" y="197.55" width="1.3" height="1.2" fill="#444"/>
<line x1="484.60" y1="186.20" x2="484.60" y2="216.50" stroke="#2a2a2a" stroke-width="1.05" />
<rect x="486.00" y="200.30" width="1.3" height="1.2" fill="#444"/>
<rect x="486.00" y="202.20" width="1.3" height="1.2" fill="#444"/>
<rect x="486.00" y="204.10" width="1.3" height="1.2" fill="#444"/>
<line x1="493.10" y1="195.00" x2="493.10" y2="217.30" stroke="#2a2a2a" stroke-width="1.05" />
<rect x="494.50" y="204.75" width="1.3" height="1.2" fill="#444"/>
<rect x="494.50" y="206.65" width="1.3" height="1.2" fill="#444"/>
<line x1="499.40" y1="201.90" x2="499.40" y2="216.50" stroke="#2a2a2a" stroke-width="1.05" />
<rect x="500.80" y="207.20" width="1.3" height="1.2" fill="#444"/>
<rect x="500.80" y="209.10" width="1.3" height="1.2" fill="#444"/>
<rect x="500.80" y="211.00" width="1.3" height="1.2" fill="#444"/>
<polyline points="394.50,224.40 425.44,224.40 425.44,230.21 433.22,230.21 433.22,236.02 459.17,236.02 459.17,241.83 494.30,241.83" fill="none" stroke="#b0103a" stroke-width="1.2" stroke-linejoin="round" />
<polyline points="409.47,224.40 409.47,230.21 410.47,230.21 410.47,241.83 412.26,241.83 412.26,253.45 413.46,253.45 413.46,259.26 425.44,259.26 425.44,265.07 431.03,265.07 431.03,270.88 431.63,270.88 431.63,276.69 494.30,276.69" fill="none" stroke="#2f4f8e" stroke-width="1.2" stroke-linejoin="round" />
<polyline points="407.47,224.40 407.47,230.85 408.07,230.85 408.07,237.30 414.46,237.30 414.46,243.75 415.46,243.75 415.46,250.20 429.13,250.20 429.13,263.15 439.41,263.15 439.41,269.60 448.39,269.60 448.39,276.05 464.36,276.05 464.36,282.50" fill="none" stroke="#b0103a" stroke-width="1.2" stroke-dasharray="3.2,1.8" stroke-linejoin="round" />
<polyline points="406.48,224.40 406.48,243.75 407.47,243.75 407.47,256.70 408.27,256.70 408.27,263.15 410.27,263.15 410.27,269.60 412.26,269.60 412.26,276.05 414.46,276.05 414.46,282.50" fill="none" stroke="#5a2a82" stroke-width="1.2" stroke-dasharray="3.0,1.8" stroke-linejoin="round" />
<polygon points="425.44,228.00 427.54,232.00 423.34,232.00" fill="#b0103a"/>
<polygon points="433.22,233.81 435.32,237.81 431.12,237.81" fill="#b0103a"/>
<polygon points="459.17,239.62 461.27,243.62 457.07,243.62" fill="#b0103a"/>
<polygon points="494.30,239.62 496.40,243.62 492.20,243.62" fill="#b0103a"/>
<circle cx="409.47" cy="230.21" r="2.05" fill="#2f4f8e"/>
<circle cx="410.47" cy="241.83" r="2.05" fill="#2f4f8e"/>
<circle cx="412.26" cy="253.45" r="2.05" fill="#2f4f8e"/>
<circle cx="413.46" cy="259.26" r="2.05" fill="#2f4f8e"/>
<circle cx="425.44" cy="265.07" r="2.05" fill="#2f4f8e"/>
<circle cx="431.03" cy="270.88" r="2.05" fill="#2f4f8e"/>
<circle cx="431.63" cy="276.69" r="2.05" fill="#2f4f8e"/>
<circle cx="494.30" cy="276.69" r="2.05" fill="#2f4f8e"/>
<polygon points="407.47,228.70 409.41,230.85 407.47,233.21 405.54,230.85" fill="#b0103a"/>
<polygon points="408.07,235.15 410.01,237.30 408.07,239.66 406.14,237.30" fill="#b0103a"/>
<polygon points="415.26,241.60 417.19,243.75 415.26,246.11 413.32,243.75" fill="#b0103a"/>
<polygon points="416.06,248.05 417.99,250.20 416.06,252.56 414.12,250.20" fill="#b0103a"/>
<polygon points="429.13,261.00 431.07,263.15 429.13,265.52 427.20,263.15" fill="#b0103a"/>
<polygon points="439.41,267.45 441.34,269.60 439.41,271.97 437.47,269.60" fill="#b0103a"/>
<polygon points="448.39,273.90 450.33,276.05 448.39,278.42 446.46,276.05" fill="#b0103a"/>
<polygon points="464.36,280.35 466.30,282.50 464.36,284.87 462.43,282.50" fill="#b0103a"/>
<circle cx="406.48" cy="243.75" r="2.05" fill="#4b1a6e"/>
<circle cx="407.47" cy="256.70" r="2.05" fill="#4b1a6e"/>
<circle cx="408.27" cy="263.15" r="2.05" fill="#4b1a6e"/>
<circle cx="410.27" cy="269.60" r="2.05" fill="#4b1a6e"/>
<circle cx="412.26" cy="276.05" r="2.05" fill="#4b1a6e"/>
<circle cx="414.46" cy="282.50" r="2.05" fill="#4b1a6e"/>
<line x1="394.50" y1="222.60" x2="394.50" y2="283.10" stroke="#231f20" stroke-width="1.2" />
<line x1="391.20" y1="282.50" x2="394.50" y2="282.50" stroke="#231f20" stroke-width="0.9" />
<text x="388.30" y="284.75" font-size="6.5" stroke="#231f20" stroke-width="0.13" text-anchor="end" >0</text>
<line x1="391.20" y1="270.88" x2="394.50" y2="270.88" stroke="#231f20" stroke-width="0.9" />
<text x="388.30" y="273.13" font-size="6.5" stroke="#231f20" stroke-width="0.13" text-anchor="end" >20</text>
<line x1="391.20" y1="259.26" x2="394.50" y2="259.26" stroke="#231f20" stroke-width="0.9" />
<text x="388.30" y="261.51" font-size="6.5" stroke="#231f20" stroke-width="0.13" text-anchor="end" >40</text>
<line x1="391.20" y1="247.64" x2="394.50" y2="247.64" stroke="#231f20" stroke-width="0.9" />
<text x="388.30" y="249.89" font-size="6.5" stroke="#231f20" stroke-width="0.13" text-anchor="end" >60</text>
<line x1="391.20" y1="236.02" x2="394.50" y2="236.02" stroke="#231f20" stroke-width="0.9" />
<text x="388.30" y="238.27" font-size="6.5" stroke="#231f20" stroke-width="0.13" text-anchor="end" >80</text>
<line x1="391.20" y1="224.40" x2="394.50" y2="224.40" stroke="#231f20" stroke-width="0.9" />
<text x="388.30" y="226.65" font-size="6.5" stroke="#231f20" stroke-width="0.13" text-anchor="end" >100</text>
<line x1="393.90" y1="282.50" x2="496.60" y2="282.50" stroke="#231f20" stroke-width="1.2" />
<line x1="394.50" y1="282.50" x2="394.50" y2="285.10" stroke="#231f20" stroke-width="0.9" />
<text x="394.50" y="294.30" font-size="6.5" stroke="#231f20" stroke-width="0.13" text-anchor="middle" >0</text>
<line x1="414.46" y1="282.50" x2="414.46" y2="285.10" stroke="#231f20" stroke-width="0.9" />
<text x="414.46" y="294.30" font-size="6.5" stroke="#231f20" stroke-width="0.13" text-anchor="middle" >20</text>
<line x1="434.42" y1="282.50" x2="434.42" y2="285.10" stroke="#231f20" stroke-width="0.9" />
<text x="434.42" y="294.30" font-size="6.5" stroke="#231f20" stroke-width="0.13" text-anchor="middle" >40</text>
<line x1="454.38" y1="282.50" x2="454.38" y2="285.10" stroke="#231f20" stroke-width="0.9" />
<text x="454.38" y="294.30" font-size="6.5" stroke="#231f20" stroke-width="0.13" text-anchor="middle" >60</text>
<line x1="474.34" y1="282.50" x2="474.34" y2="285.10" stroke="#231f20" stroke-width="0.9" />
<text x="474.34" y="294.30" font-size="6.5" stroke="#231f20" stroke-width="0.13" text-anchor="middle" >80</text>
<line x1="494.30" y1="282.50" x2="494.30" y2="285.10" stroke="#231f20" stroke-width="0.9" />
<text x="494.30" y="294.30" font-size="6.5" stroke="#231f20" stroke-width="0.13" text-anchor="middle" >100</text>
<text x="410.60" y="305.70" font-size="8.6" stroke="#231f20" stroke-width="0.32" textLength="70.80" lengthAdjust="spacingAndGlyphs" >Days after PBMCs injection</text>
<text x="371.60" y="273.40" font-size="8.6" stroke="#231f20" stroke-width="0.32" textLength="41.30" lengthAdjust="spacingAndGlyphs" transform="rotate(-90 371.60 273.40)" >Percent survival</text>
<polyline points="171.90,341.20 185.80,341.20" fill="none" stroke="#5a2a82" stroke-width="1.3" stroke-dasharray="3.2,7.5" stroke-linejoin="round" />
<circle cx="179.20" cy="341.20" r="2.20" fill="#4b1a6e"/>
<line x1="171.90" y1="350.30" x2="185.80" y2="350.30" stroke="#2f4f8e" stroke-width="1.3" />
<rect x="177.09" y="348.19" width="4.22" height="4.22" fill="#2f4f8e"/>
<polyline points="171.90,359.20 185.80,359.20" fill="none" stroke="#b0103a" stroke-width="1.3" stroke-dasharray="3.2,7.5" stroke-linejoin="round" />
<polygon points="179.20,361.93 181.80,356.99 176.60,356.99" fill="#b0103a"/>
<line x1="171.90" y1="368.20" x2="185.80" y2="368.20" stroke="#b0103a" stroke-width="1.3" />
<polygon points="179.20,365.47 181.80,370.41 176.60,370.41" fill="#b0103a"/>
<text x="189.20" y="343.00" font-size="5.7" stroke="#231f20" stroke-width="0.04" textLength="6.60" lengthAdjust="spacingAndGlyphs" >NT</text>
<text x="189.20" y="352.10" font-size="5.7" stroke="#231f20" stroke-width="0.04" textLength="12.00" lengthAdjust="spacingAndGlyphs" >Rapa</text>
<text x="189.20" y="361.00" font-size="5.7" stroke="#231f20" stroke-width="0.04" textLength="44.30" lengthAdjust="spacingAndGlyphs" >Anti-CD45RC mAb</text>
<text x="189.20" y="370.00" font-size="5.7" stroke="#231f20" stroke-width="0.04" textLength="60.00" lengthAdjust="spacingAndGlyphs" >Rapa+Anti-CD45RC mAb</text>
<line x1="105.90" y1="356.44" x2="105.90" y2="351.00" stroke="#5a2a82" stroke-width="1.0" />
<line x1="103.60" y1="351.00" x2="108.20" y2="351.00" stroke="#5a2a82" stroke-width="1.0" />
<line x1="125.60" y1="366.35" x2="125.60" y2="356.40" stroke="#2f4f8e" stroke-width="1.0" />
<line x1="123.30" y1="356.40" x2="127.90" y2="356.40" stroke="#2f4f8e" stroke-width="1.0" />
<line x1="125.60" y1="387.13" x2="125.60" y2="373.40" stroke="#b0103a" stroke-width="1.0" />
<line x1="123.30" y1="373.40" x2="127.90" y2="373.40" stroke="#b0103a" stroke-width="1.0" />
<line x1="145.00" y1="388.42" x2="145.00" y2="382.60" stroke="#b0103a" stroke-width="1.0" />
<line x1="142.70" y1="382.60" x2="147.30" y2="382.60" stroke="#b0103a" stroke-width="1.0" />
<line x1="125.60" y1="405.75" x2="125.60" y2="401.90" stroke="#b0103a" stroke-width="1.0" />
<line x1="123.30" y1="401.90" x2="127.90" y2="401.90" stroke="#b0103a" stroke-width="1.0" />
<line x1="164.75" y1="391.44" x2="164.75" y2="378.10" stroke="#b0103a" stroke-width="1.0" />
<line x1="162.45" y1="378.10" x2="167.05" y2="378.10" stroke="#b0103a" stroke-width="1.0" />
<line x1="184.00" y1="397.73" x2="184.00" y2="394.70" stroke="#b0103a" stroke-width="1.0" />
<line x1="181.70" y1="394.70" x2="186.30" y2="394.70" stroke="#b0103a" stroke-width="1.0" />
<polyline points="86.60,410.40 105.90,409.19 125.60,405.75 145.00,410.40 164.75,391.44 184.00,397.73" fill="none" stroke="#b0103a" stroke-width="1.3" stroke-linejoin="round" />
<polyline points="86.60,410.40 105.90,397.38 125.60,387.13 145.00,388.42 164.75,397.73 184.00,378.94" fill="none" stroke="#b0103a" stroke-width="1.3" stroke-dasharray="2.8,1.8" stroke-linejoin="round" />
<polyline points="86.60,410.40 105.90,392.38 125.60,366.35 145.00,377.13 164.75,402.47" fill="none" stroke="#2f4f8e" stroke-width="1.3" stroke-linejoin="round" />
<polyline points="86.60,410.40 105.90,356.44" fill="none" stroke="#5a2a82" stroke-width="1.35" stroke-dasharray="2.8,1.8" stroke-linejoin="round" />
<polygon points="86.60,407.77 89.10,412.52 84.10,412.52" fill="#b0103a"/>
<polygon points="105.90,406.57 108.40,411.32 103.40,411.32" fill="#b0103a"/>
<polygon points="125.60,403.12 128.10,407.87 123.10,407.87" fill="#b0103a"/>
<polygon points="145.00,407.77 147.50,412.52 142.50,412.52" fill="#b0103a"/>
<polygon points="164.75,388.81 167.25,393.56 162.25,393.56" fill="#b0103a"/>
<polygon points="184.00,395.10 186.50,399.85 181.50,399.85" fill="#b0103a"/>
<polygon points="86.60,413.02 89.10,408.27 84.10,408.27" fill="#b0103a"/>
<polygon points="105.90,400.01 108.40,395.26 103.40,395.26" fill="#b0103a"/>
<polygon points="125.60,389.75 128.10,385.00 123.10,385.00" fill="#b0103a"/>
<polygon points="145.00,391.04 147.50,386.29 142.50,386.29" fill="#b0103a"/>
<polygon points="164.75,400.35 167.25,395.60 162.25,395.60" fill="#b0103a"/>
<polygon points="184.00,381.56 186.50,376.81 181.50,376.81" fill="#b0103a"/>
<rect x="84.44" y="408.24" width="4.31" height="4.31" fill="#2f4f8e"/>
<rect x="103.74" y="390.23" width="4.31" height="4.31" fill="#2f4f8e"/>
<rect x="123.44" y="364.20" width="4.31" height="4.31" fill="#2f4f8e"/>
<rect x="142.84" y="374.97" width="4.31" height="4.31" fill="#2f4f8e"/>
<rect x="162.59" y="400.31" width="4.31" height="4.31" fill="#2f4f8e"/>
<circle cx="86.60" cy="410.40" r="2.15" fill="#4b1a6e"/>
<circle cx="105.90" cy="356.44" r="2.15" fill="#4b1a6e"/>
<line x1="76.70" y1="338.80" x2="76.70" y2="411.00" stroke="#231f20" stroke-width="1.2" />
<line x1="73.90" y1="410.40" x2="76.70" y2="410.40" stroke="#231f20" stroke-width="0.9" />
<text x="70.70" y="412.65" font-size="6.5" stroke="#231f20" stroke-width="0.13" text-anchor="end" >0</text>
<line x1="73.90" y1="393.16" x2="76.70" y2="393.16" stroke="#231f20" stroke-width="0.9" />
<text x="70.70" y="395.41" font-size="6.5" stroke="#231f20" stroke-width="0.13" text-anchor="end" >20</text>
<line x1="73.90" y1="375.92" x2="76.70" y2="375.92" stroke="#231f20" stroke-width="0.9" />
<text x="70.70" y="378.17" font-size="6.5" stroke="#231f20" stroke-width="0.13" text-anchor="end" >40</text>
<line x1="73.90" y1="358.68" x2="76.70" y2="358.68" stroke="#231f20" stroke-width="0.9" />
<text x="70.70" y="360.93" font-size="6.5" stroke="#231f20" stroke-width="0.13" text-anchor="end" >60</text>
<line x1="73.90" y1="341.44" x2="76.70" y2="341.44" stroke="#231f20" stroke-width="0.9" />
<text x="70.70" y="343.69" font-size="6.5" stroke="#231f20" stroke-width="0.13" text-anchor="end" >80</text>
<line x1="76.10" y1="410.40" x2="193.80" y2="410.40" stroke="#231f20" stroke-width="1.2" />
<line x1="86.60" y1="410.40" x2="86.60" y2="413.00" stroke="#231f20" stroke-width="0.9" />
<text x="86.60" y="421.90" font-size="6.5" stroke="#231f20" stroke-width="0.13" text-anchor="middle" >0</text>
<line x1="105.90" y1="410.40" x2="105.90" y2="413.00" stroke="#231f20" stroke-width="0.9" />
<text x="105.90" y="421.90" font-size="6.5" stroke="#231f20" stroke-width="0.13" text-anchor="middle" >15</text>
<line x1="125.60" y1="410.40" x2="125.60" y2="413.00" stroke="#231f20" stroke-width="0.9" />
<text x="125.60" y="421.90" font-size="6.5" stroke="#231f20" stroke-width="0.13" text-anchor="middle" >25</text>
<line x1="145.00" y1="410.40" x2="145.00" y2="413.00" stroke="#231f20" stroke-width="0.9" />
<text x="145.00" y="421.90" font-size="6.5" stroke="#231f20" stroke-width="0.13" text-anchor="middle" >30</text>
<line x1="164.75" y1="410.40" x2="164.75" y2="413.00" stroke="#231f20" stroke-width="0.9" />
<text x="164.75" y="421.90" font-size="6.5" stroke="#231f20" stroke-width="0.13" text-anchor="middle" >45</text>
<line x1="184.00" y1="410.40" x2="184.00" y2="413.00" stroke="#231f20" stroke-width="0.9" />
<text x="184.00" y="421.90" font-size="6.5" stroke="#231f20" stroke-width="0.13" text-anchor="middle" >60</text>
<text x="100.00" y="433.80" font-size="8.6" stroke="#231f20" stroke-width="0.32" textLength="71.00" lengthAdjust="spacingAndGlyphs" >Days after PBMCs injection</text>
<text x="47.00" y="403.20" font-size="8.6" stroke="#231f20" stroke-width="0.32" textLength="54.90" lengthAdjust="spacingAndGlyphs" transform="rotate(-90 47.00 403.20)" >% huCD45<tspan font-size="4.2" dy="-2.6">+</tspan><tspan dy="2.6"> cells in</tspan></text>
<text x="57.90" y="411.30" font-size="8.6" stroke="#231f20" stroke-width="0.32" textLength="73.20" lengthAdjust="spacingAndGlyphs" transform="rotate(-90 57.90 411.30)" >NSG mouse peripheral blood</text>
<rect x="307.4" y="350.89" width="12.6" height="59.41" fill="#2d4a7e"/>
<rect x="326.2" y="379.10" width="12.7" height="31.20" fill="#dd8b1c"/>
<rect x="344.8" y="391.82" width="12.7" height="18.48" fill="#a8002c"/>
<line x1="313.70" y1="350.89" x2="313.70" y2="346.00" stroke="#222" stroke-width="1.0" />
<line x1="310.60" y1="346.00" x2="316.80" y2="346.00" stroke="#222" stroke-width="1.0" />
<line x1="332.50" y1="379.10" x2="332.50" y2="363.10" stroke="#222" stroke-width="1.0" />
<line x1="329.40" y1="363.10" x2="335.60" y2="363.10" stroke="#222" stroke-width="1.0" />
<line x1="351.20" y1="391.82" x2="351.20" y2="383.50" stroke="#222" stroke-width="1.0" />
<line x1="348.10" y1="383.50" x2="354.30" y2="383.50" stroke="#222" stroke-width="1.0" />
<line x1="315.90" y1="339.50" x2="353.50" y2="339.50" stroke="#231f20" stroke-width="1.0" />
<circle cx="334.8" cy="336.4" r="0.45" fill="#333"/>
<line x1="304.40" y1="338.80" x2="304.40" y2="411.00" stroke="#231f20" stroke-width="1.2" />
<line x1="301.40" y1="410.40" x2="304.40" y2="410.40" stroke="#231f20" stroke-width="0.9" />
<text x="298.40" y="412.65" font-size="6.5" stroke="#231f20" stroke-width="0.13" text-anchor="end" >0</text>
<line x1="301.40" y1="393.20" x2="304.40" y2="393.20" stroke="#231f20" stroke-width="0.9" />
<text x="298.40" y="395.45" font-size="6.5" stroke="#231f20" stroke-width="0.13" text-anchor="end" >20</text>
<line x1="301.40" y1="376.00" x2="304.40" y2="376.00" stroke="#231f20" stroke-width="0.9" />
<text x="298.40" y="378.25" font-size="6.5" stroke="#231f20" stroke-width="0.13" text-anchor="end" >40</text>
<line x1="301.40" y1="358.80" x2="304.40" y2="358.80" stroke="#231f20" stroke-width="0.9" />
<text x="298.40" y="361.05" font-size="6.5" stroke="#231f20" stroke-width="0.13" text-anchor="end" >60</text>
<line x1="301.40" y1="341.60" x2="304.40" y2="341.60" stroke="#231f20" stroke-width="0.9" />
<text x="298.40" y="343.85" font-size="6.5" stroke="#231f20" stroke-width="0.13" text-anchor="end" >80</text>
<line x1="300.90" y1="410.40" x2="361.30" y2="410.40" stroke="#231f20" stroke-width="1.2" />
<text x="274.60" y="400.10" font-size="8.6" stroke="#231f20" stroke-width="0.32" textLength="51.80" lengthAdjust="spacingAndGlyphs" transform="rotate(-90 274.60 400.10)" >% huCD45<tspan font-size="4.2" dy="-2.6">+</tspan><tspan dy="2.6"> cells in</tspan></text>
<text x="285.60" y="399.10" font-size="8.6" stroke="#231f20" stroke-width="0.32" textLength="49.80" lengthAdjust="spacingAndGlyphs" transform="rotate(-90 285.60 399.10)" >NSG mouse spleen</text>
<rect x="363.7" y="340.50" width="11.1" height="2.0" fill="#2d4a7e"/>
<rect x="363.7" y="349.20" width="11.1" height="2.0" fill="#dd8b1c"/>
<rect x="363.7" y="358.20" width="11.1" height="2.0" fill="#a8002c"/>
<text x="378.00" y="343.30" font-size="5.7" stroke="#231f20" stroke-width="0.04" textLength="24.10" lengthAdjust="spacingAndGlyphs" >Rapa, n=4</text>
<text x="378.00" y="352.00" font-size="5.7" stroke="#231f20" stroke-width="0.04" textLength="56.20" lengthAdjust="spacingAndGlyphs" >Anti-CD45RC mAb, n=4</text>
<text x="378.00" y="361.00" font-size="5.7" stroke="#231f20" stroke-width="0.04" textLength="72.60" lengthAdjust="spacingAndGlyphs" >Rapa+Anti-CD45RC mAb, n=4</text>
<rect x="0.5" y="0.5" width="519" height="442" fill="none" stroke="#000" stroke-width="1.2"/>
</svg>
</body></html>
